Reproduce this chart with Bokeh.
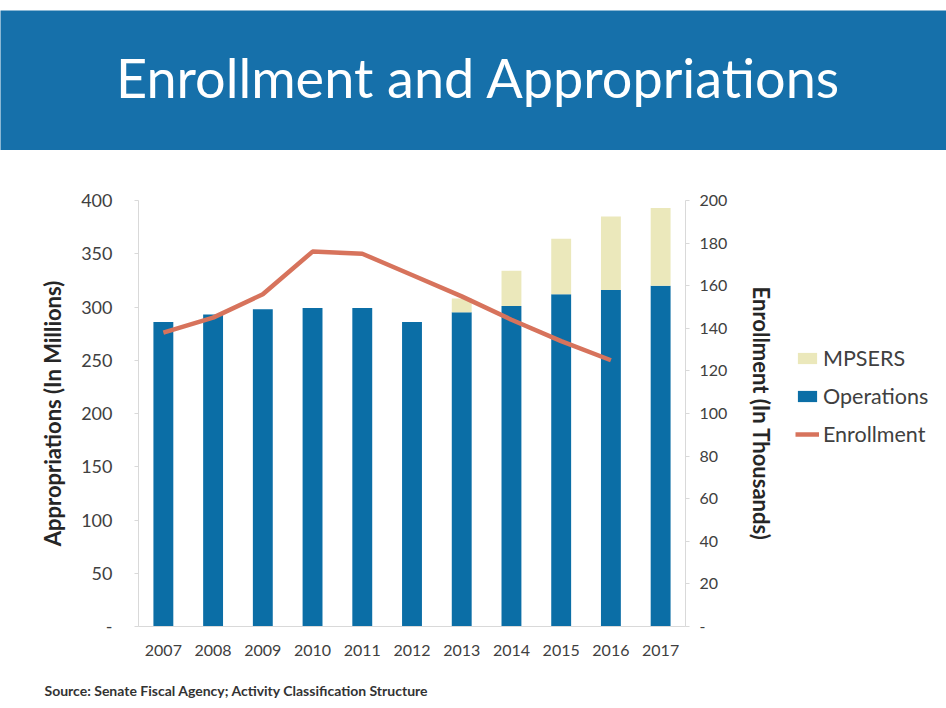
from bokeh.plotting import figure
from bokeh.models import (Range1d, LinearAxis, FixedTicker, Legend, LegendItem,
                          Label, ColumnDataSource, FactorRange)
from bokeh.layouts import row
from bokeh.embed import file_html
from bokeh.resources import INLINE

# ---------------- data ----------------
years = ["2007", "2008", "2009", "2010", "2011", "2012",
         "2013", "2014", "2015", "2016", "2017"]
operations = [286, 293, 298, 299, 299, 286, 295, 301, 312, 316, 320]
mpsers = [0, 0, 0, 0, 0, 0, 13, 33, 52, 69, 73]
enroll_years = ["2007", "2008", "2009", "2010", "2011", "2012",
                "2013", "2014", "2015", "2016"]
enrollment = [138, 145, 156, 176, 175, 165, 155, 144, 134, 125]
left_ticks = [0, 50, 100, 150, 200, 250, 300, 350, 400]
right_ticks = [0, 20, 40, 60, 80, 100, 120, 140, 160, 180, 200]
series_names = ["MPSERS", "Operations", "Enrollment"]

TITLE = "Enrollment and Appropriations"
SOURCE = "Source: Senate Fiscal Agency; Activity Classification Structure"

HEADER_BLUE = "#1670aa"
OPS_BLUE = "#0b6ea6"
MPSERS_YEL = "#ebe8bb"
LINE_RED = "#d7735c"
TXT = "#404040"
FONT = "Lato"

W = 946
MAIN_W = 785
BT, BB = 50, 42
MAIN_H = 518


def blank(fig):
    fig.axis.visible = False
    fig.grid.visible = False
    fig.outline_line_color = None


# ---------------- header ----------------
h = figure(width=W, height=150, toolbar_location=None, output_backend="svg",
           x_range=Range1d(0, 1), y_range=Range1d(0, 1),
           min_border_left=0, min_border_right=0,
           min_border_top=10, min_border_bottom=0)
blank(h)
h.background_fill_color = HEADER_BLUE
h.border_fill_color = "white"
h.add_layout(Label(x=478, y=73, x_units="screen", y_units="screen", text=TITLE,
                   text_align="center", text_baseline="alphabetic",
                   text_font=FONT, text_font_size="54px", text_color="white"))

# ---------------- main chart ----------------
src = ColumnDataSource(dict(years=years, operations=operations, mpsers=mpsers))

p = figure(width=MAIN_W, height=MAIN_H, toolbar_location=None,
           output_backend="svg",
           x_range=FactorRange(*years), y_range=Range1d(0, 400),
           min_border_left=138, min_border_right=100,
           min_border_top=BT, min_border_bottom=BB)
p.extra_y_ranges = {"right": Range1d(0, 200)}
p.grid.visible = False
p.outline_line_color = None

bars = p.vbar_stack(["operations", "mpsers"], x="years", width=0.4,
                    color=[OPS_BLUE, MPSERS_YEL], line_color=None, source=src)
ln = p.line(x=enroll_years, y=enrollment, y_range_name="right",
            line_color=LINE_RED, line_width=4.5)

ya = p.yaxis[0]
ya.ticker = FixedTicker(ticks=left_ticks)
ya.major_label_overrides = {0: "-"}
ya.axis_label = "Appropriations (In Millions)"

ra = LinearAxis(y_range_name="right", ticker=FixedTicker(ticks=right_ticks),
                axis_label="Enrollment (In Thousands)")
ra.major_label_overrides = {0: "-"}
p.add_layout(ra, "right")

for ax in (ya, ra):
    ax.axis_line_color = "#d9d9d9"
    ax.major_tick_line_color = "#d9d9d9"
    ax.major_tick_out = 4
    ax.major_tick_in = 0
    ax.minor_tick_line_color = None
    ax.major_label_text_font = FONT
    ax.major_label_text_color = TXT
    ax.axis_label_text_font = FONT
    ax.axis_label_text_font_style = "bold"
    ax.axis_label_text_font_size = "22px"
    ax.axis_label_text_color = "#262626"
ya.major_label_text_font_size = "18px"
ra.major_label_text_font_size = "16px"
ya.major_label_standoff = 22
ya.axis_label_standoff = 12
ra.major_label_standoff = 10
ra.axis_label_standoff = 18

xa = p.xaxis[0]
xa.axis_line_color = "#d9d9d9"
xa.major_tick_line_color = None
xa.major_label_text_font = FONT
xa.major_label_text_font_size = "16px"
xa.major_label_text_color = TXT
xa.major_label_standoff = 12

# ---------------- legend panel (legend-only proxy renderers, zero size) ----------
lf = figure(width=W - MAIN_W, height=MAIN_H, toolbar_location=None,
            output_backend="svg", x_range=Range1d(0, 1), y_range=Range1d(0, 1),
            min_border_left=0, min_border_right=0,
            min_border_top=BT, min_border_bottom=BB)
blank(lf)
proxy_mp = lf.vbar(x=[0.5], top=[0], bottom=[0], width=0.4,
                   fill_color=MPSERS_YEL, line_color=None)
proxy_ops = lf.vbar(x=[0.5], top=[0], bottom=[0], width=0.4,
                    fill_color=OPS_BLUE, line_color=None)
proxy_ln = lf.line(x=[0.5], y=[0.5], line_color=LINE_RED, line_width=4.5)

legend = Legend(items=[LegendItem(label=series_names[0], renderers=[proxy_mp]),
                       LegendItem(label=series_names[1], renderers=[proxy_ops]),
                       LegendItem(label=series_names[2], renderers=[proxy_ln])],
                location=(10, 179), padding=0, margin=0, spacing=12,
                glyph_width=24, glyph_height=14, label_height=22,
                label_standoff=4, border_line_color=None,
                background_fill_alpha=0, label_text_font=FONT,
                label_text_font_size="21.5px", label_text_color=TXT)
lf.add_layout(legend)

# ---------------- source line ----------------
s = figure(width=W, height=38, toolbar_location=None, output_backend="svg",
           x_range=Range1d(0, 1), y_range=Range1d(0, 1), min_border=0)
blank(s)
s.add_layout(Label(x=44, y=16, x_units="screen", y_units="screen", text=SOURCE,
                   text_baseline="alphabetic", text_font=FONT,
                   text_font_style="bold", text_font_size="14px",
                   text_color="#333333"))

open("out.html", "w").write(file_html([h, row(p, lf), s], INLINE))
